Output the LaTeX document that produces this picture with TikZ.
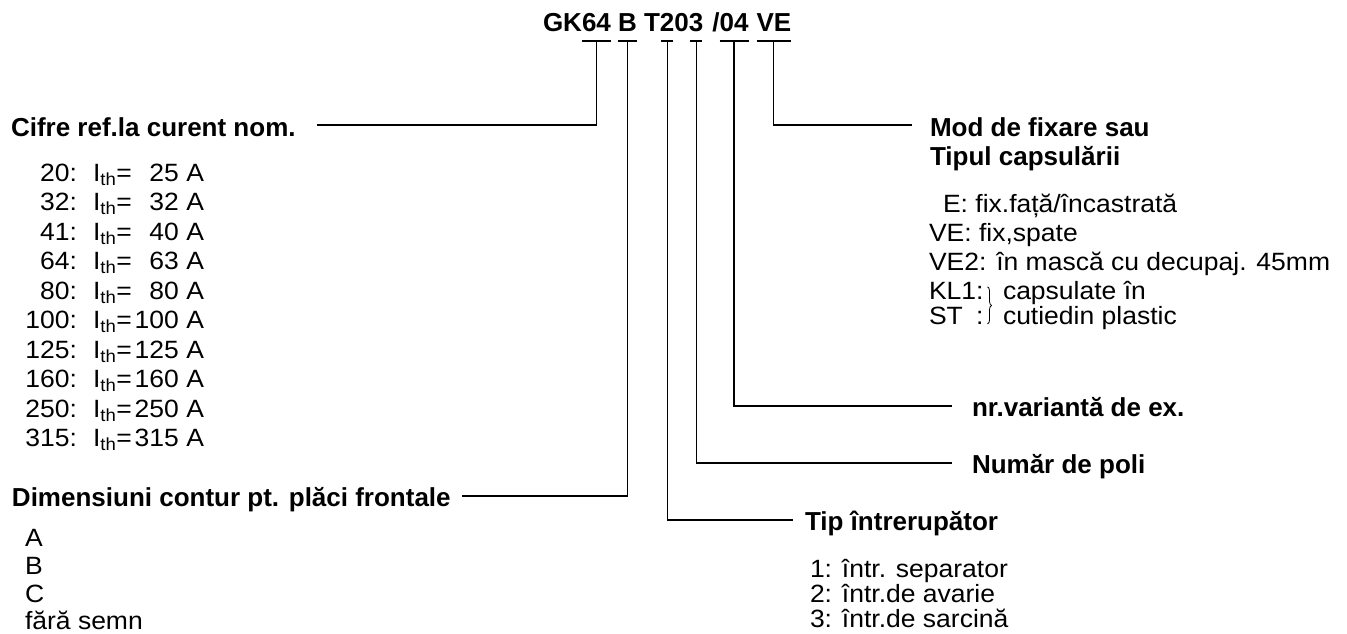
\documentclass[tikz,border=0pt]{standalone}
\usepackage{fontspec}
\setmainfont{Liberation Sans}
\newfontfamily\regf{Liberation Sans}[FakeStretch=1.06]
\newfontfamily\headf{Liberation Sans}
\usetikzlibrary{calc,decorations.pathreplacing}
\begin{document}
\begin{tikzpicture}[x=1pt,y=-1pt,
  every node/.style={inner sep=0pt,outer sep=0pt},
  txt/.style={anchor=base west,font=\regf\fontsize{25}{25}\selectfont},
  txtr/.style={anchor=base east,font=\regf\fontsize{25}{25}\selectfont},
  head/.style={anchor=base west,font=\headf\bfseries\fontsize{26}{26}\selectfont},
  conn/.style={line width=1.2pt,black},
  ulbar/.style={line width=2.6pt,black}]
\fill[white] (0,0) rectangle (1347,633);
\useasboundingbox (0,0) rectangle (1347,633);

% title pieces
\node[head] (tGK) at (543,31) {GK};
\node[head] (t64) at (tGK.base east) {64};
\node[head] (tB) at ([xshift=7.2pt]t64.base east) {B};
\node[head] (tT) at ([xshift=7.2pt]tB.base east) {T};
\node[head] (t2) at (tT.base east) {2};
\node[head] (t0) at (t2.base east) {0};
\node[head] (t3) at (t0.base east) {3};
\node[head] (tsl) at ([xshift=9pt]t3.base east) {/};
\node[head] (t04) at (tsl.base east) {04};
\node[head] (tVE) at ([xshift=8pt]t04.base east) {VE};

% underlines
\draw[ulbar] ([yshift=-10pt]t64.base west) -- ([yshift=-10pt]t64.base east);
\draw[ulbar] ([yshift=-10pt]tB.base west) -- ([yshift=-10pt]tB.base east);
\draw[ulbar] ([xshift=1.5pt,yshift=-10pt]t2.base west) -- ([xshift=-1.5pt,yshift=-10pt]t2.base east);
\draw[ulbar] ([xshift=1.5pt,yshift=-10pt]t3.base west) -- ([xshift=-1.5pt,yshift=-10pt]t3.base east);
\draw[ulbar] ([yshift=-10pt]t04.base west) -- ([yshift=-10pt]t04.base east);
\draw[ulbar] ([yshift=-10pt]tVE.base west) -- ([yshift=-10pt]tVE.base east);

\coordinate (u64) at ([yshift=-10pt]t64.base);
\coordinate (uB) at ([yshift=-10pt]tB.base);
\coordinate (u2) at ([yshift=-10pt]t2.base);
\coordinate (u3) at ([yshift=-10pt]t3.base);
\coordinate (u04) at ([yshift=-10pt]t04.base);
\coordinate (uVE) at ([yshift=-10pt]tVE.base);

% headings
\node[head] (cifre) at (11,136) {Cifre ref.la curent nom.};
\node[head] (dim) at (12,506) {Dimensiuni contur pt. plăci frontale};
\node[head] (mod) at (930,136) {Mod de fixare sau};
\node[head] (tipc) at (930,165) {Tipul capsulării};
\node[head] (nrv) at (972,416) {nr.variantă de ex.};
\node[head] (nrp) at (972,473) {Număr de poli};
\node[head] (tip) at (805,530) {Tip întrerupător};

% connectors
\draw[conn] (u64) |- ([xshift=21pt,yshift=11pt]cifre.base east);
\draw[conn] (uB) |- ([xshift=11pt,yshift=10pt]dim.base east);
\draw[conn] (uVE) |- ([xshift=-18pt,yshift=11pt]mod.base west);
\draw[conn] (u04) |- ([xshift=-20pt,yshift=10pt]nrv.base west);
\draw[conn] (u3) |- ([xshift=-20pt,yshift=10pt]nrp.base west);
\draw[conn] (u2) |- ([xshift=-12pt,yshift=10pt]tip.base west);

% current list
\foreach \n/\v [count=\i] in {20/25,32/32,41/40,64/63,80/80,100/100,125/125,160/160,250/250,315/315} {
  \pgfmathsetmacro\yy{181+29.5*(\i-1)}
  \node[txtr] (cn\i) at (77,\yy) {\n:};
  \node[txt] (ci\i) at (93,\yy) {I\textsubscript{th}=};
  \node[txtr] (cv\i) at (204,\yy) {\v\ A};
}

% plate dimensions list
\node[txt] (dA) at (25,546) {A};
\node[txt] (dB) at (25,574) {B};
\node[txt] (dC) at (25,602) {C};
\node[txt] (dF) at (25,629) {fără semn};

% mounting list
\node[txt] (mE) at (943,212) {E: fix.față/încastrată};
\node[txt] (mVE) at (929,241) {VE: fix,spate};
\node[txt] (mVE2) at (929,270) {VE2: în mască cu decupaj. 45mm};
\node[txt] (mKL) at (929,299) {KL1:};
\node[txt] (mST) at (929,324) {\rlap{ST}\phantom{KL1}:};
\node[txt] (mc1) at (1003,299) {capsulate în};
\node[txt] (mc2) at (1003,324) {cutiedin plastic};
\draw[line width=0.8pt,decorate,decoration={brace,amplitude=4pt}] ([xshift=4pt,yshift=-5pt]mKL.north east) -- ([xshift=4pt]mST.base east);

% switch type list
\node[txt] (s1) at (810,577) {1: într. separator};
\node[txt] (s2) at (810,602) {2: într.de avarie};
\node[txt] (s3) at (810,627) {3: într.de sarcină};
\end{tikzpicture}
\end{document}
